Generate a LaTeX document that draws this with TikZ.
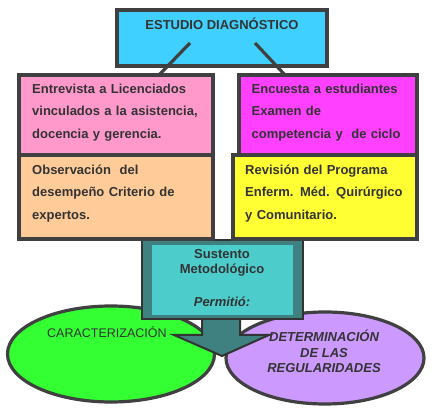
\documentclass[tikz,border=0pt]{standalone}
\usepackage{fontspec}
\setmainfont{Liberation Sans}
\usetikzlibrary{shapes.geometric}
\definecolor{cyanbox}{HTML}{40D0FF}
\definecolor{pinkbox}{HTML}{FF99CC}
\definecolor{magbox}{HTML}{FF40FF}
\definecolor{peachbox}{HTML}{FFCC99}
\definecolor{yelbox}{HTML}{FFFF33}
\definecolor{greenell}{HTML}{33FF33}
\definecolor{purpell}{HTML}{CC99FF}
\definecolor{teallight}{HTML}{4DCCCC}
\definecolor{tealdark}{HTML}{3F8080}
\definecolor{edge}{HTML}{404040}
\definecolor{ink}{HTML}{333333}
\begin{document}
\begin{tikzpicture}[x=1pt,y=-1pt,
  box/.style={draw=edge, line width=3.2pt, rectangle, inner sep=0pt},
  txt/.style={text=ink, inner sep=0pt, text width=200pt, align=left,
    font=\fontsize{13}{22.7}\selectfont\bfseries},
  ctxt/.style={text=ink, inner sep=0pt, align=center},
  ell/.style={draw=edge, line width=3.2pt, ellipse, inner sep=0pt},
  conn/.style={draw=edge, line width=3.2pt}]
\useasboundingbox (0,0) rectangle (442,411);
% ellipses
\node[ell, fill=greenell, minimum width=207, minimum height=96] (green) at (111,354) {};
\node[ell, fill=purpell, minimum width=198, minimum height=92] (purple) at (325,358) {};
% arrow
\coordinate (a1) at (240,314);
\coordinate (a2) at (240,335);
\coordinate (a3) at (269,335);
\coordinate (a4) at (222,356);
\coordinate (a5) at (174,335);
\coordinate (a6) at (202,335);
\coordinate (a7) at (202,314);
\filldraw[fill=tealdark, draw=ink, line width=2pt, line join=miter] (a1) -- (a2) -- (a3) -- (a4) -- (a5) -- (a6) -- (a7);
% teal box
\node[rectangle, draw=ink, line width=1.6pt, fill=tealdark, minimum width=161, minimum height=79, inner sep=0pt] (tealout) at (222.5,279.5) {};
\node[rectangle, fill=teallight, minimum width=141, minimum height=70, inner sep=0pt] (tealin) at (222.5,280) {};
% top box and children
\node[box, fill=cyanbox, minimum width=210, minimum height=56] (top) at (222,38) {};
\node[box, fill=pinkbox, minimum width=194, minimum height=80] (pink) at (116,115) {};
\node[box, fill=magbox, minimum width=178, minimum height=80] (mag) at (328,115) {};
\node[box, fill=peachbox, minimum width=194, minimum height=84] (peach) at (116,197) {};
\node[box, fill=yelbox, minimum width=184, minimum height=84] (yel) at (325,197) {};
% connectors
\coordinate (c1a) at (190,43);
\coordinate (c1b) at (159,75);
\coordinate (c2a) at (255,43);
\coordinate (c2b) at (285,75);
\draw[conn] (c1a) -- (c1b);
\draw[conn] (c2a) -- (c2b);
% texts
\node[ctxt, anchor=base, font=\fontsize{13}{15}\selectfont\bfseries] (ttop) at (222,30) {ESTUDIO DIAGNÓSTICO};
\node[txt, anchor=base west] (tpink) at (32,93.3) {Entrevista a Licenciados\\vinculados a la asistencia,\\docencia y gerencia.};
\node[txt, anchor=base west] (tmag) at (251.5,93.3) {Encuesta a estudiantes\\Examen de\\competencia y\ \ de ciclo};
\node[txt, anchor=base west] (tpeach) at (32,174.3) {Observación\ \ del\\desempeño Criterio de\\expertos.};
\node[txt, anchor=base west] (tyel) at (245,174.3) {Revisión del Programa\\Enferm. Méd. Quirúrgico\\y Comunitario.};
\node[ctxt, anchor=base, font=\fontsize{13}{15}\selectfont\bfseries] (tsust) at (222,274) {Sustento\\Metodológico};
\node[ctxt, anchor=base, font=\fontsize{13}{15}\selectfont\bfseries\itshape] (tperm) at (222,307) {Permitió:};
\node[ctxt, anchor=base west, font=\fontsize{12.5}{15}\selectfont] (tcar) at (47,338) {CARACTERIZACIÓN};
\node[ctxt, anchor=base, font=\fontsize{13}{15.7}\selectfont\bfseries\itshape] (tdet) at (324,373) {DETERMINACIÓN\\DE LAS\\REGULARIDADES};
\end{tikzpicture}
\end{document}
